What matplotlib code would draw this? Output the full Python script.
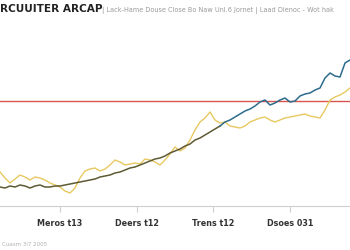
import numpy as np
import matplotlib
matplotlib.use("Agg")
import matplotlib.pyplot as plt

# ---- data ----
main_series = [19, 18, 20, 19, 21, 20, 18, 20, 21, 19, 19, 20, 20, 21, 22, 23, 24, 25, 26, 27,
               29, 30, 31, 33, 34, 36, 38, 39, 41, 43, 45, 47, 48, 50, 53, 55, 57, 60, 62, 66,
               68, 71, 74, 77, 80, 84, 86, 89, 92, 95, 97, 100, 104, 106, 101, 103, 106, 108, 104, 105,
               110, 112, 113, 116, 118, 128, 133, 130, 129, 143, 146]
comp_series = [34, 28, 23, 27, 31, 29, 26, 29, 28, 26, 23, 21, 19, 15, 13, 18, 28, 35, 37, 38,
               35, 37, 41, 46, 44, 41, 42, 43, 42, 47, 46, 44, 41, 46, 52, 59, 55, 58, 66, 76,
               84, 88, 94, 86, 83, 84, 80, 79, 78, 80, 84, 86, 88, 89, 86, 84, 86, 88, 89, 90,
               91, 92, 90, 89, 88, 96, 106, 109, 111, 114, 118]
periods = list(range(len(main_series)))
threshold = 105
tick_pos = [12, 27.4, 42.6, 58]
tick_labels = ["Meros t13", "Deers t12", "Trens t12", "Dsoes 031"]
split_idx = 44

fig = plt.figure(figsize=(3.5, 2.5), dpi=100)
fig.patch.set_facecolor("white")
ax = fig.add_axes([0.0, 0.176, 1.0, 0.664])
ax.set_facecolor("white")

ax.axhline(threshold, color="#d9534f", lw=1.0, zorder=2)
ax.plot(periods, comp_series, color="#e8c860", lw=1.0, zorder=3)
ax.plot(periods[:split_idx + 1], main_series[:split_idx + 1], color="#5e5a34", lw=1.1, zorder=4)
ax.plot(periods[split_idx:], main_series[split_idx:], color="#2d6c8c", lw=1.1, zorder=4)

ax.set_xlim(0, len(main_series) - 1)
ax.set_ylim(0, 166)
for s in ["top", "right", "left"]:
    ax.spines[s].set_visible(False)
ax.spines["bottom"].set_color("#cfcfcf")
ax.spines["bottom"].set_linewidth(0.8)
ax.set_yticks([])
ax.set_xticks(tick_pos)
ax.set_xticklabels(tick_labels, fontsize=5.8, fontweight="bold", color="#333333")
ax.tick_params(axis="x", length=4, color="#cfcfcf", pad=5)

fig.text(0.0, 0.965, "RCUUITER ARCAP", fontsize=7.6, fontweight="bold",
         color="#222222", ha="left", va="center")
fig.text(0.292, 0.958, "| Lack-Hame Douse Close Bo Naw Unl.6 Jornet | Laad Dienoc - Wot hak",
         fontsize=4.7, color="#9a9a9a", ha="left", va="center")
fig.text(0.006, 0.024, "Cuasm 3l7 2005", fontsize=4, color="#b0b0b0", ha="left", va="center")

fig.savefig("out.png", dpi=100, facecolor="white")
